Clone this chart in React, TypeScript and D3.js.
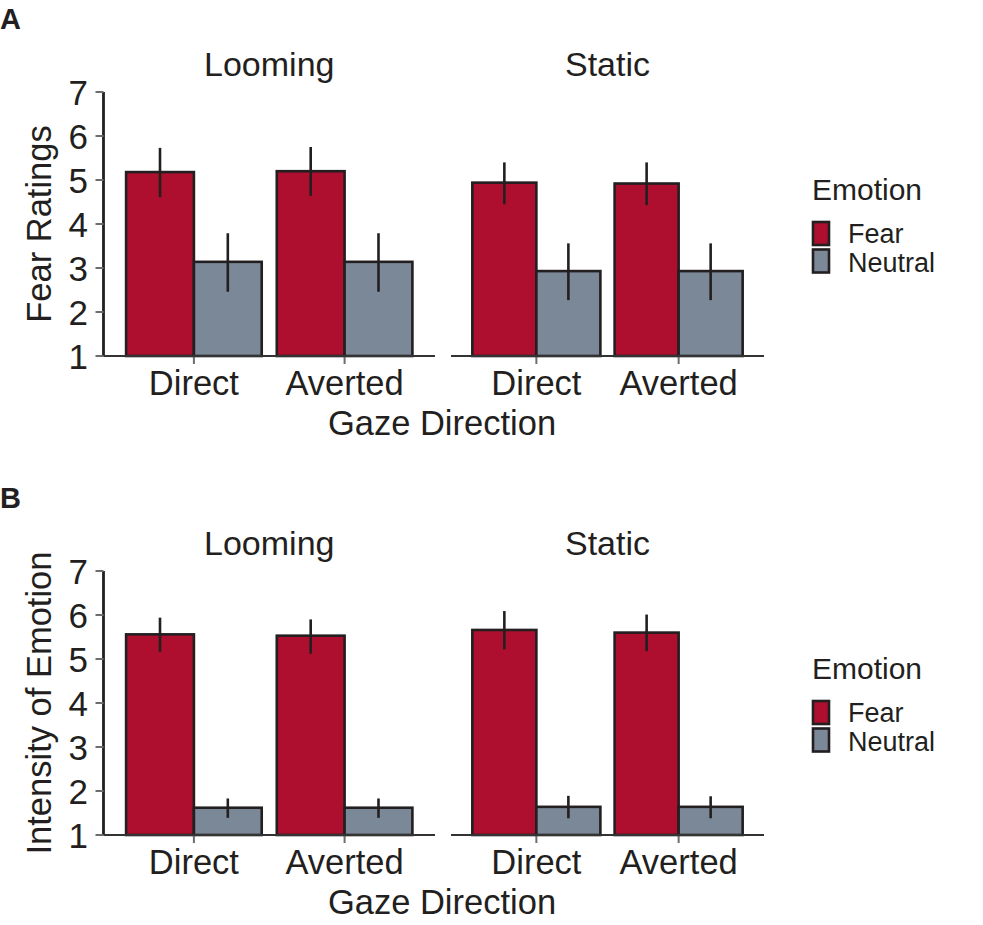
import React from "react";
import * as d3 from "d3";

const facets = ["Looming", "Static"];
const gazeLevels = ["Direct", "Averted"];
const emotions = ["Fear", "Neutral"];
const yTicks = [1, 2, 3, 4, 5, 6, 7];

// Panel A: Fear Ratings [facet][gaze][emotion]
const fearMean = [
  [[5.18, 3.14], [5.2, 3.14]],
  [[4.94, 2.93], [4.92, 2.93]],
];
const fearLow = [
  [[4.61, 2.46], [4.64, 2.46]],
  [[4.45, 2.27], [4.43, 2.27]],
];
const fearHigh = [
  [[5.73, 3.79], [5.75, 3.79]],
  [[5.4, 3.56], [5.4, 3.56]],
];

// Panel B: Intensity of Emotion
const intMean = [
  [[5.56, 1.62], [5.53, 1.62]],
  [[5.66, 1.64], [5.6, 1.64]],
];
const intLow = [
  [[5.16, 1.39], [5.12, 1.39]],
  [[5.22, 1.38], [5.18, 1.38]],
];
const intHigh = [
  [[5.94, 1.83], [5.9, 1.83]],
  [[6.09, 1.89], [6.01, 1.88]],
];

const panelLetters = ["A", "B"];
const yTitles = ["Fear Ratings", "Intensity of Emotion"];
const xTitle = "Gaze Direction";
const legendTitle = "Emotion";

const colors = ["#ae0f2f", "#7b8898"];
const FONT = "'Liberation Sans', Arial, Helvetica, sans-serif";
const ink = "#231f20";

const facetRanges: [number, number][] = [
  [103.5, 435],
  [451, 764],
];

function Panel({
  offsetY,
  letter,
  yTitle,
  mean,
  low,
  high,
}: {
  offsetY: number;
  letter: string;
  yTitle: string;
  mean: number[][][];
  low: number[][][];
  high: number[][][];
}) {
  const y = d3.scaleLinear().domain([1, 7]).range([356, 92]);
  const yAxisX = facetRanges[0][0];
  return (
    <g transform={`translate(0,${offsetY})`}>
      <text x={0} y={29} fontSize={29} fontWeight="bold" fontFamily={FONT} fill={ink}>
        {letter}
      </text>
      {/* y axis */}
      <line x1={yAxisX} x2={yAxisX} y1={y(7)} y2={y(1)} stroke={ink} strokeWidth={2.8} />
      {yTicks.map((t) => (
        <g key={t}>
          <line x1={yAxisX - 8} x2={yAxisX} y1={y(t)} y2={y(t)} stroke="#6d6d6d" strokeWidth={2} />
          <text
            x={88}
            y={y(t)}
            dy="0.36em"
            textAnchor="end"
            fontSize={35}
            fontFamily={FONT}
            fill={ink}
          >
            {t}
          </text>
        </g>
      ))}
      <text
        transform={`translate(51,${(y(1) + y(7)) / 2}) rotate(-90)`}
        textAnchor="middle"
        fontSize={34.5}
        fontFamily={FONT}
        fill={ink}
      >
        {yTitle}
      </text>
      {facets.map((f, fi) => {
        const x = d3.scaleLinear().domain([0.4, 2.6]).range(facetRanges[fi]);
        const cx = (facetRanges[fi][0] + facetRanges[fi][1]) / 2;
        return (
          <g key={f}>
            <text x={cx} y={76} textAnchor="middle" fontSize={34} fontFamily={FONT} fill={ink}>
              {f}
            </text>
            {gazeLevels.map((g, gi) => {
              const c = gi + 1;
              return (
                <g key={g}>
                  {emotions.map((e, ei) => {
                    const x0 = x(c - 0.45 + ei * 0.45);
                    const x1 = x(c + ei * 0.45);
                    const v = mean[fi][gi][ei];
                    return (
                      <rect
                        key={e}
                        x={x0}
                        y={y(v)}
                        width={x1 - x0}
                        height={y(1) - y(v)}
                        fill={colors[ei]}
                        stroke={ink}
                        strokeWidth={2.6}
                      />
                    );
                  })}
                </g>
              );
            })}
            {/* x axis */}
            <line x1={facetRanges[fi][0]} x2={facetRanges[fi][1]} y1={y(1)} y2={y(1)} stroke="#333" strokeWidth={2.2} />
            {gazeLevels.map((g, gi) => {
              const c = gi + 1;
              return (
                <g key={g + "ax"}>
                  {emotions.map((e, ei) => {
                    const ex = x(c - 0.225 + ei * 0.45);
                    return (
                      <line
                        key={e}
                        x1={ex}
                        x2={ex}
                        y1={y(high[fi][gi][ei])}
                        y2={y(low[fi][gi][ei])}
                        stroke={ink}
                        strokeWidth={2.6}
                      />
                    );
                  })}
                  <line x1={x(c)} x2={x(c)} y1={y(1) + 1} y2={y(1) + 8} stroke="#6d6d6d" strokeWidth={2} />
                  <text x={x(c)} y={395} textAnchor="middle" fontSize={34.5} fontFamily={FONT} fill={ink}>
                    {g}
                  </text>
                </g>
              );
            })}
          </g>
        );
      })}
      <text x={442} y={435} textAnchor="middle" fontSize={34.5} fontFamily={FONT} fill={ink}>
        {xTitle}
      </text>
      {/* legend */}
      <text x={812} y={200} fontSize={30} fontFamily={FONT} fill={ink}>
        {legendTitle}
      </text>
      {emotions.map((e, ei) => (
        <g key={e}>
          <rect
            x={813}
            y={222 + ei * 27.5}
            width={16}
            height={23}
            fill={colors[ei]}
            stroke={ink}
            strokeWidth={2.6}
          />
          <text x={848} y={243 + ei * 28.5} fontSize={27} fontFamily={FONT} fill={ink}>
            {e}
          </text>
        </g>
      ))}
    </g>
  );
}

export default function App() {
  return (
    <svg
      width={983}
      height={925}
      style={{ position: "absolute", left: 0, top: 0, background: "#fff" }}
    >
      <rect width={983} height={925} fill="#fff" />
      <Panel offsetY={0} letter={panelLetters[0]} yTitle={yTitles[0]} mean={fearMean} low={fearLow} high={fearHigh} />
      <Panel offsetY={479} letter={panelLetters[1]} yTitle={yTitles[1]} mean={intMean} low={intLow} high={intHigh} />
    </svg>
  );
}
